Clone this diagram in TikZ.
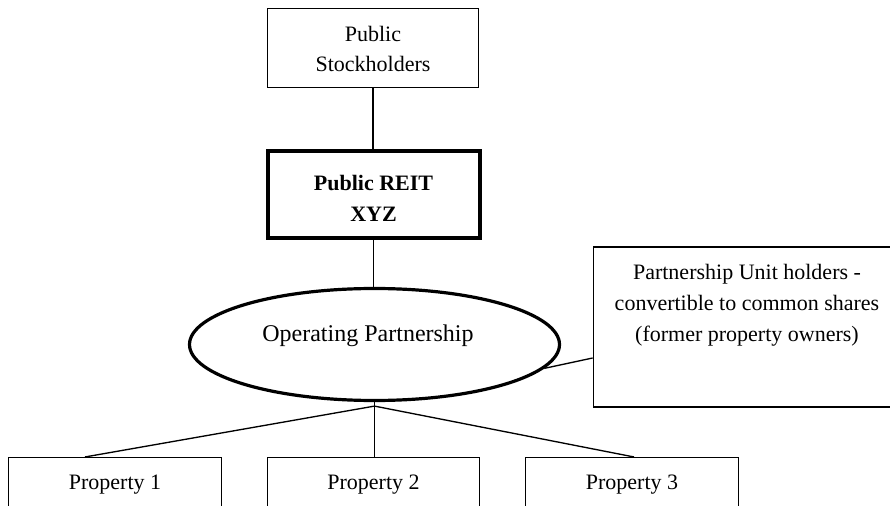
\documentclass[tikz,border=0pt]{standalone}
\usepackage{fontspec}
\setmainfont{Liberation Serif}
\usetikzlibrary{shapes.geometric,calc}
\tikzset{
  thinbox/.style={draw=black, line width=0.8pt, rectangle, inner sep=0pt, align=center,
    font=\fontsize{16.5}{22.5}\selectfont},
  reitbox/.style={draw=black, line width=3pt, rectangle, inner sep=0pt, align=center,
    font=\fontsize{16.5}{23.25}\selectfont\bfseries},
  opell/.style={draw=black, line width=2.4pt, ellipse, inner sep=0pt},
  conn/.style={draw=black, line width=1pt},
  plain/.style={inner sep=0pt, align=center, font=\fontsize{16.5}{23.25}\selectfont}
}
\begin{document}
\begin{tikzpicture}[x=0.75pt, y=-0.75pt]
\useasboundingbox (0,0) rectangle (890,506);
\clip (0,0) rectangle (890,506);
\fill[white] (0,0) rectangle (890,506);

% top boxes
\node[thinbox, minimum width=158.25pt, minimum height=59.25pt] (ps) at (373,48) {\rule{0pt}{13pt}Public\\Stockholders};
\node[reitbox, minimum width=159pt, minimum height=65.25pt] (reit) at (373.5,195) {\rule{0pt}{17pt}Public REIT\\XYZ};

% ellipse
\node[opell, minimum width=277.5pt, minimum height=84pt] (op) at (374.5,344.5) {};
\node[inner sep=0pt, anchor=base, font=\fontsize{18}{22}\selectfont] (optext) at (368,341) {Operating Partnership};

% partnership unit holders box
\node[thinbox, minimum width=230pt, minimum height=120pt] (pu) at (746.5,327) {};
\node[plain] (putext) at (747,305) {Partnership Unit holders -\\convertible to common shares\\(former property owners)};

% properties
\node[thinbox, minimum width=159.4pt, minimum height=39pt] (p1) at (115,483.5) {\rule{0pt}{13pt}Property 1};
\node[thinbox, minimum width=159.4pt, minimum height=39pt] (p2) at (373.5,483.5) {\rule{0pt}{13pt}Property 2};
\node[thinbox, minimum width=159.4pt, minimum height=39pt] (p3) at (632,483.5) {\rule{0pt}{13pt}Property 3};

% connectors
\draw[conn] (ps.south) -- (ps.south |- reit.north);
\draw[conn] (reit.south) -- (reit.south |- op.north);
\draw[conn] ([yshift=-23.25pt]pu.west) -- (op.-8);
\coordinate (hub) at ([yshift=-3pt]op.south);
\draw[conn] (op.south) -- (op.south |- p2.north);
\draw[conn] (hub) -- ([xshift=-22.5pt]p1.north);
\draw[conn] (hub) -- ([xshift=1.5pt]p3.north);
\end{tikzpicture}
\end{document}
